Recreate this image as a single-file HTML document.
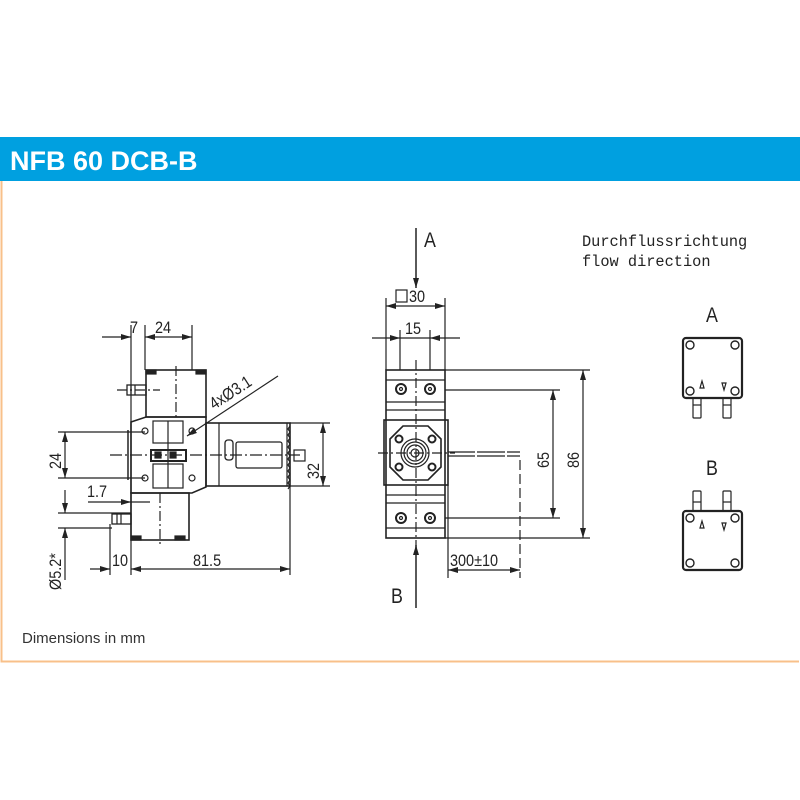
<!DOCTYPE html>
<html><head><meta charset="utf-8"><style>
html,body{margin:0;padding:0;background:#fff;}
svg{display:block;}
.t{font-family:"Liberation Sans",sans-serif;font-size:17px;fill:#222;}
</style></head><body>
<svg width="800" height="800" viewBox="0 0 800 800" xmlns="http://www.w3.org/2000/svg">
<defs>
<marker id="ar" viewBox="0 0 10 6" refX="10" refY="3" markerWidth="10" markerHeight="6" orient="auto-start-reverse" markerUnits="userSpaceOnUse"><path d="M0,0 L10,3 L0,6 z" fill="#222"/></marker>
</defs>
<rect x="0" y="137" width="800" height="44" fill="#00a0e0"/>
<text x="10" y="170" font-family="Liberation Sans,sans-serif" font-weight="bold" font-size="27" fill="#fff">NFB 60 DCB-B</text>
<path d="M1.5,181 V661.5 H799" fill="none" stroke="#f8c08a" stroke-width="2"/>
<text x="22" y="643" font-family="Liberation Sans,sans-serif" font-size="15" fill="#333">Dimensions in mm</text>

<g stroke="#222" fill="none" stroke-width="1.2">
<!-- LEFT VIEW -->
<line x1="131" y1="325" x2="131" y2="575"/>
<line x1="145" y1="325" x2="145" y2="370"/>
<line x1="192" y1="325" x2="192" y2="370"/>
<line x1="102" y1="337" x2="131" y2="337" marker-end="url(#ar)"/>
<line x1="145" y1="337" x2="192" y2="337" marker-start="url(#ar)" marker-end="url(#ar)"/>
<rect x="146" y="370" width="60" height="47" stroke-width="1.6"/>
<rect x="146" y="370" width="10" height="4" fill="#222"/><rect x="196" y="370" width="10" height="4" fill="#222"/>
<line x1="176" y1="366" x2="176" y2="417" stroke-dasharray="10,3,2,3"/>
<line x1="117" y1="390" x2="160" y2="390" stroke-dasharray="10,3,2,3"/>
<rect x="127" y="385" width="19" height="10" stroke-width="1.3"/>
<line x1="131" y1="385" x2="131" y2="395"/><line x1="135" y1="385" x2="135" y2="395"/>
<path d="M131,422 L146,417 H206 V487 L192,493 H131 Z" stroke-width="1.6"/>
<line x1="128" y1="430" x2="128" y2="480" stroke-width="1.5"/>
<circle cx="145" cy="431" r="3"/><circle cx="192" cy="431" r="3"/>
<circle cx="145" cy="478" r="3"/><circle cx="192" cy="478" r="3"/>
<rect x="153" y="421" width="30" height="22"/><rect x="153" y="464" width="30" height="24"/>
<line x1="168" y1="421" x2="168" y2="488"/>
<rect x="151" y="450" width="35" height="11" stroke-width="2"/>
<rect x="155" y="452" width="6" height="6" fill="#222"/><rect x="170" y="452" width="6" height="6" fill="#222"/>
<line x1="110" y1="455" x2="300" y2="455" stroke-dasharray="12,3,2,3"/>
<rect x="206" y="423" width="84" height="63" stroke-width="1.6"/>
<line x1="219" y1="423" x2="219" y2="486"/>
<rect x="225" y="440" width="8" height="20" rx="3" stroke-width="1.3"/>
<rect x="236" y="442" width="46" height="26" rx="2" stroke-width="1.3"/>
<path d="M287,423 v63 M290,426 l-2,3 l2,3 l-2,3 l2,3 l-2,3 l2,3 l-2,3 l2,3 l-2,3 l2,3 l-2,3 l2,3 l-2,3 l2,3 l-2,3 l2,3 l-2,3 l2,3 l-2,3 l2,3 l-2,3"/>
<rect x="131" y="493" width="58" height="47" stroke-width="1.6"/>
<rect x="131" y="536" width="10" height="4" fill="#222"/><rect x="175" y="536" width="10" height="4" fill="#222"/>
<line x1="160" y1="493" x2="160" y2="545" stroke-dasharray="10,3,2,3"/>
<rect x="112" y="514" width="19" height="10" stroke-width="1.3"/>
<line x1="117" y1="514" x2="117" y2="524"/><line x1="121" y1="514" x2="121" y2="524"/>
<line x1="110" y1="524" x2="110" y2="575"/>
<line x1="290" y1="486" x2="290" y2="575"/>
<line x1="90" y1="569" x2="110" y2="569" marker-end="url(#ar)"/>
<line x1="131" y1="569" x2="290" y2="569" marker-start="url(#ar)" marker-end="url(#ar)"/>
<line x1="58" y1="432" x2="145" y2="432"/><line x1="58" y1="478" x2="145" y2="478"/>
<line x1="65" y1="432" x2="65" y2="478" marker-start="url(#ar)" marker-end="url(#ar)"/>
<line x1="88" y1="502" x2="113" y2="502"/>
<line x1="113" y1="502" x2="131" y2="502" marker-end="url(#ar)"/>
<line x1="131" y1="502" x2="150" y2="502"/>
<line x1="58" y1="513" x2="131" y2="513"/><line x1="58" y1="528" x2="112" y2="528"/>
<line x1="65" y1="490" x2="65" y2="513" marker-end="url(#ar)"/>
<line x1="65" y1="528" x2="65" y2="580" marker-start="url(#ar)"/>
<line x1="290" y1="423" x2="330" y2="423"/><line x1="290" y1="486" x2="330" y2="486"/>
<line x1="323" y1="423" x2="323" y2="486" marker-start="url(#ar)" marker-end="url(#ar)"/>
<line x1="278" y1="376" x2="187" y2="436" marker-end="url(#ar)"/>

<!-- MIDDLE VIEW -->
<line x1="416" y1="228" x2="416" y2="288" marker-end="url(#ar)" stroke-width="1.5"/>
<line x1="416" y1="608" x2="416" y2="545" marker-end="url(#ar)" stroke-width="1.5"/>
<line x1="386" y1="298" x2="386" y2="370"/><line x1="445" y1="298" x2="445" y2="370"/>
<line x1="400" y1="330" x2="400" y2="370"/><line x1="430" y1="330" x2="430" y2="370"/>
<line x1="386" y1="306" x2="445" y2="306" marker-start="url(#ar)" marker-end="url(#ar)"/>
<line x1="372" y1="338" x2="400" y2="338" marker-end="url(#ar)"/>
<line x1="400" y1="338" x2="430" y2="338"/>
<line x1="430" y1="338" x2="460" y2="338" marker-start="url(#ar)"/>
<rect x="386" y="370" width="59" height="168" stroke-width="1.6"/>
<rect x="384" y="420" width="64" height="65" stroke-width="1.6"/>
<line x1="386" y1="380" x2="445" y2="380"/><line x1="386" y1="402" x2="445" y2="402"/><line x1="386" y1="410" x2="445" y2="410"/>
<line x1="386" y1="495" x2="445" y2="495"/><line x1="386" y1="503" x2="445" y2="503"/><line x1="386" y1="528" x2="445" y2="528"/>
<circle cx="401" cy="389" r="5" stroke-width="2"/><circle cx="401" cy="389" r="1.5"/>
<circle cx="430" cy="389" r="5" stroke-width="2"/><circle cx="430" cy="389" r="1.5"/>
<circle cx="401" cy="518" r="5" stroke-width="2"/><circle cx="401" cy="518" r="1.5"/>
<circle cx="430" cy="518" r="5" stroke-width="2"/><circle cx="430" cy="518" r="1.5"/>
<path d="M403,426 H428 L441,439 V467 L428,480 H403 L390,467 V439 Z" stroke-width="1.6"/>
<circle cx="399" cy="439" r="3.5" stroke-width="2"/><circle cx="432" cy="439" r="3.5" stroke-width="2"/>
<circle cx="399" cy="467" r="3.5" stroke-width="2"/><circle cx="432" cy="467" r="3.5" stroke-width="2"/>
<circle cx="415" cy="453" r="14"/><circle cx="415" cy="453" r="11"/><circle cx="415" cy="453" r="8"/><circle cx="415" cy="453" r="4"/>
<line x1="416" y1="360" x2="416" y2="548" stroke-dasharray="10,3,2,3"/>
<line x1="378" y1="453" x2="455" y2="453" stroke-dasharray="10,3,2,3"/>
<path d="M448,452 H475 M448,456 H475 M477,452 H505 M477,456 H505 M507,452 H520 M507,456 H520" stroke-width="1.3"/>
<line x1="520" y1="460" x2="520" y2="578" stroke-dasharray="10,4"/>
<line x1="448" y1="485" x2="448" y2="578"/>
<line x1="448" y1="570" x2="520" y2="570" marker-start="url(#ar)" marker-end="url(#ar)"/>
<line x1="445" y1="390" x2="560" y2="390"/><line x1="445" y1="518" x2="560" y2="518"/>
<line x1="553" y1="390" x2="553" y2="518" marker-start="url(#ar)" marker-end="url(#ar)"/>
<line x1="445" y1="370" x2="590" y2="370"/><line x1="445" y1="538" x2="590" y2="538"/>
<line x1="583" y1="370" x2="583" y2="538" marker-start="url(#ar)" marker-end="url(#ar)"/>

<!-- RIGHT A -->
<rect x="683" y="338" width="59" height="60" rx="3" stroke-width="2.2"/>
<g stroke-width="1.4">
<circle cx="690" cy="345" r="4"/><circle cx="735" cy="345" r="4"/><circle cx="690" cy="391" r="4"/><circle cx="735" cy="391" r="4"/>
</g>
<path d="M700,388 l2,-7 l2,7 z M722,383 l2,7 l2,-7 z"/>
<rect x="693" y="398" width="8" height="20" rx="1"/><rect x="723" y="398" width="8" height="20" rx="1"/>
<line x1="693" y1="405" x2="701" y2="405"/><line x1="723" y1="405" x2="731" y2="405"/>
<!-- RIGHT B -->
<rect x="683" y="511" width="59" height="59" rx="3" stroke-width="2.2"/>
<g stroke-width="1.4">
<circle cx="690" cy="518" r="4"/><circle cx="735" cy="518" r="4"/><circle cx="690" cy="563" r="4"/><circle cx="735" cy="563" r="4"/>
</g>
<path d="M700,528 l2,-7 l2,7 z M722,523 l2,7 l2,-7 z"/>
<rect x="693" y="491" width="8" height="20" rx="1"/><rect x="723" y="491" width="8" height="20" rx="1"/>
<line x1="693" y1="502" x2="701" y2="502"/><line x1="723" y1="502" x2="731" y2="502"/>
<rect x="396" y="290" width="11" height="12" stroke-width="1.2"/>
<rect x="294" y="450" width="11" height="11" stroke-width="1.2"/>
</g>

<g class="t">
<text transform="translate(130,333) scale(0.85,1)">7</text>
<text transform="translate(155,333) scale(0.85,1)">24</text>
<text transform="translate(214,410) rotate(-33) scale(0.85,1)">4x&#216;3.1</text>
<text transform="translate(61,469) rotate(-90) scale(0.85,1)">24</text>
<text transform="translate(87,497) scale(0.85,1)">1.7</text>
<text transform="translate(61,590) rotate(-90) scale(0.85,1)">&#216;5.2*</text>
<text transform="translate(112,566) scale(0.85,1)">10</text>
<text transform="translate(193,566) scale(0.85,1)">81.5</text>
<text transform="translate(319,479) rotate(-90) scale(0.85,1)">32</text>
<text transform="translate(409,302) scale(0.85,1)">30</text>
<text transform="translate(405,334) scale(0.85,1)">15</text>
<text transform="translate(549,468) rotate(-90) scale(0.85,1)">65</text>
<text transform="translate(579,468) rotate(-90) scale(0.85,1)">86</text>
<text transform="translate(450,566) scale(0.85,1)">300&#177;10</text>
<text transform="translate(424,247) scale(0.85,1)" font-size="21">A</text>
<text transform="translate(391,603) scale(0.85,1)" font-size="21">B</text>
<text x="582" y="246" font-family="Liberation Mono,monospace" font-size="15.3">Durchflussrichtung</text>
<text x="582" y="266" font-family="Liberation Mono,monospace" font-size="15.3">flow direction</text>
<text transform="translate(706,322) scale(0.85,1)" font-size="21">A</text>
<text transform="translate(706,475) scale(0.85,1)" font-size="21">B</text>
</g>
</svg>
</body></html>
